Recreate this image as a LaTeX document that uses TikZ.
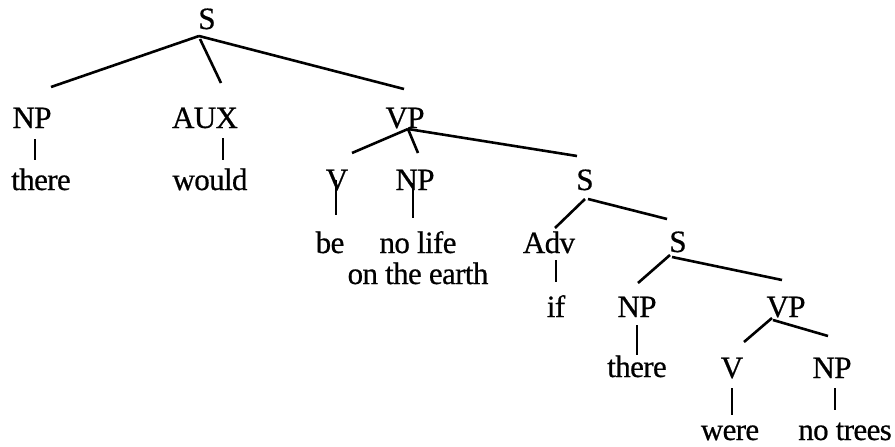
\documentclass[tikz,border=0pt]{standalone}
\usepackage{fontspec}
\setmainfont{Liberation Serif}[LetterSpace=-2,FakeBold=0.6]
\begin{document}
\begin{tikzpicture}[x=1pt,y=-1pt,
  lab/.style={anchor=base,inner sep=0pt,font=\fontsize{31}{31}\selectfont},
  edge/.style={line width=2.6pt,black}]
\useasboundingbox (0,0) rectangle (895,447);
% nodes
\node[lab] (s1) at (207,29) {S};
\node[lab] (np1) at (32,128) {NP};
\node[lab] (there1) at (41,190) {there};
\node[lab] (aux) at (205,128) {AUX};
\node[lab] (would) at (210,190) {would};
\node[lab] (vp1) at (405,128) {VP};
\node[lab] (v1) at (337,190) {V};
\node[lab] (np2) at (415,190) {NP};
\node[lab] (be) at (330,253) {be};
\node[lab,align=center] (nolife) at (418,284) {no life\\on the earth};
\node[lab] (s2) at (585,190) {S};
\node[lab] (adv) at (549,253) {Adv};
\node[lab] (if) at (556,317) {if};
\node[lab] (s3) at (678,252) {S};
\node[lab] (np3) at (637,317) {NP};
\node[lab] (there2) at (637,377) {there};
\node[lab] (vp2) at (786,317) {VP};
\node[lab] (v2) at (732,378) {V};
\node[lab] (np4) at (832,378) {NP};
\node[lab] (were) at (730,440) {were};
\node[lab] (notrees) at (845,440) {no trees};
% connector end points
\coordinate (s1o) at (199,36);
\coordinate (s1o2) at (200,39);
\coordinate (np1t) at (51,87);
\coordinate (auxt) at (221,83);
\coordinate (vp1t) at (404,89);
\coordinate (np1b) at (35,139);
\coordinate (there1t) at (35,160);
\coordinate (auxb) at (223,138);
\coordinate (wouldt) at (223,160);
\coordinate (vp1o) at (408,129);
\coordinate (v1t) at (352,153);
\coordinate (np2t) at (418,153);
\coordinate (s2t) at (577,156);
\coordinate (v1b) at (336,180);
\coordinate (bet) at (336,215);
\coordinate (np2b) at (413,183);
\coordinate (nolifet) at (413,218);
\coordinate (s2o) at (585,199);
\coordinate (s2o2) at (588,199);
\coordinate (advt) at (555,228);
\coordinate (s3t) at (667,219);
\coordinate (advb) at (556,260);
\coordinate (ift) at (556,282);
\coordinate (s3o) at (670,255);
\coordinate (s3o2) at (672,257);
\coordinate (np3t) at (638,283);
\coordinate (vp2t) at (782,280);
\coordinate (np3b) at (637,325);
\coordinate (there2t) at (637,355);
\coordinate (vp2o) at (772,318);
\coordinate (vp2o2) at (773,320);
\coordinate (v2t) at (744,342);
\coordinate (np4t) at (828,336);
\coordinate (v2b) at (732,388);
\coordinate (weret) at (732,415);
\coordinate (np4b) at (835,388);
\coordinate (notreest) at (835,410);
% connectors
\draw[edge] (s1o) -- (np1t);
\draw[edge] (s1o2) -- (auxt);
\draw[edge] (s1o) -- (vp1t);
\draw[edge] (np1b) -- (there1t);
\draw[edge] (auxb) -- (wouldt);
\draw[edge] (vp1o) -- (v1t);
\draw[edge] (vp1o) -- (np2t);
\draw[edge] (vp1o) -- (s2t);
\draw[edge] (v1b) -- (bet);
\draw[edge] (np2b) -- (nolifet);
\draw[edge] (s2o) -- (advt);
\draw[edge] (s2o2) -- (s3t);
\draw[edge] (advb) -- (ift);
\draw[edge] (s3o) -- (np3t);
\draw[edge] (s3o2) -- (vp2t);
\draw[edge] (np3b) -- (there2t);
\draw[edge] (vp2o) -- (v2t);
\draw[edge] (vp2o2) -- (np4t);
\draw[edge] (v2b) -- (weret);
\draw[edge] (np4b) -- (notreest);
\end{tikzpicture}
\end{document}
